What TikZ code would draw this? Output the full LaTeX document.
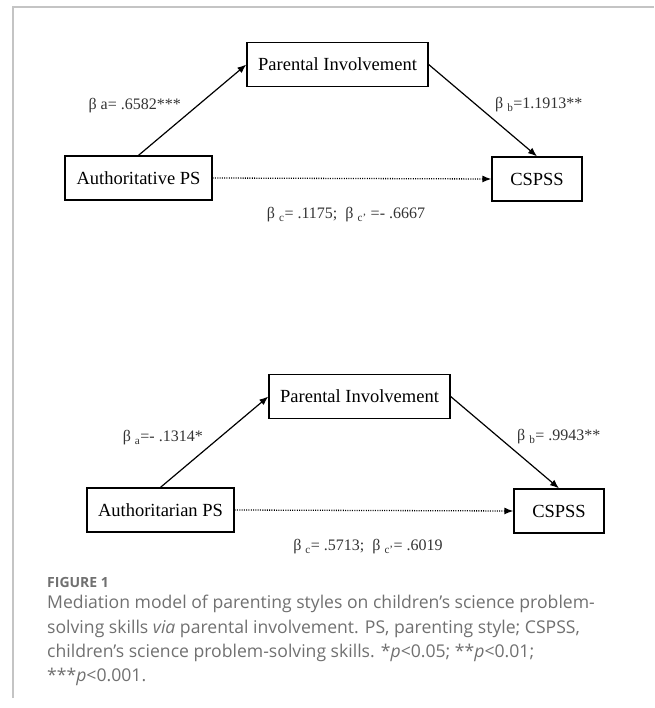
\documentclass[tikz,border=0pt]{standalone}
\usepackage{fontspec}
\setmainfont{Liberation Serif}
\newfontfamily\capfont{Open Sans}
\usetikzlibrary{arrows.meta,positioning}

\definecolor{framegray}{HTML}{C4C4C4}
\definecolor{capgray}{HTML}{707070}
\definecolor{coefgray}{HTML}{333333}

\begin{document}
\begin{tikzpicture}[x=1pt,y=-1pt,>={Latex[length=9pt,width=7pt]},
  var/.style={draw,line width=1.3pt,minimum height=44pt,inner sep=0pt,
              font=\fontsize{18.5}{20}\selectfont},
  effect/.style={->,line width=1.2pt},
  coef/.style={text=coefgray,inner sep=0pt,font=\fontsize{16}{18}\selectfont}]
\useasboundingbox (0,0) rectangle (654,708);
\draw[framegray,line width=1.5pt] (13,698) -- (13,7) -- (654,7);

\foreach \i/\dx/\dy/\cause/\la/\lb/\lc in {
  1/0/0/{Authoritative PS}/{β a= .6582***}/{β \textsubscript{b}=1.1913**}/{β \textsubscript{c}= .1175;\ \ β \textsubscript{c'} =- .6667},
  2/22/332/{Authoritarian PS}/{β \textsubscript{a}=- .1314*}/{β \textsubscript{b}= .9943**}/{β \textsubscript{c}= .5713;\ \ β \textsubscript{c'}= .6019}} {
 \begin{scope}[shift={(\dx,\dy)}]
  \node[var,minimum width=147pt] (cause\i) at (138.5,178) {\cause};
  \node[var,minimum width=181pt] (pi\i) at (337.5,64.5) {Parental Involvement};
  \node[var,minimum width=90pt] (out\i) at (537,179) {CSPSS};
  \draw[effect] (cause\i.north) -- (pi\i.west);
  \draw[effect] (pi\i.east) -- (out\i.north);
  \draw[->,line width=1.3pt,dash pattern=on 1pt off 1.3pt] (cause\i.east) -- (out\i.west);
  \node[coef,anchor=east] (la\i) at (181,106) {\la};
  \node[coef,anchor=west] (lb\i) at (495,105) {\lb};
  \node[coef] (lc\i) at (346,215) {\lc};
 \end{scope}
}

\node[anchor=west,inner sep=0pt,text=capgray,font=\capfont\bfseries\fontsize{14}{16}\selectfont] (fig) at (47,582) {FIGURE 1};
\node[anchor=north west,align=left,inner sep=0pt,text=capgray,
      font=\capfont\fontsize{17.6}{24.4}\selectfont] (caption) at (47,595)
  {Mediation model of parenting styles on children’s science problem-\\
   solving skills \textit{via} parental involvement. PS, parenting style; CSPSS,\\
   children’s science problem-solving skills. *\textit{p}<0.05; **\textit{p}<0.01;\\
   ***\textit{p}<0.001.};
\end{tikzpicture}
\end{document}
